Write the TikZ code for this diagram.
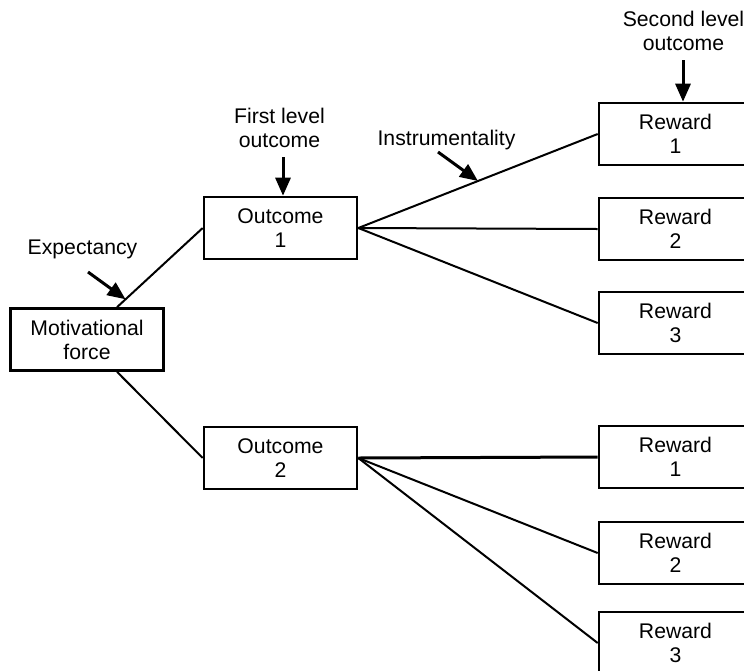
\documentclass[tikz,border=0pt]{standalone}
\usepackage{fontspec}
\setmainfont{Liberation Sans}
\usetikzlibrary{arrows.meta,calc}
\begin{document}
\begin{tikzpicture}[x=0.5pt,y=-0.5pt,
    every node/.style={font=\fontsize{10.6}{12}\selectfont},
    box/.style={draw, line width=1.3pt, minimum width=76.5pt, minimum height=31pt,
      align=center, inner sep=0pt},
    link/.style={line width=1pt},
    pointer/.style={line width=1.5pt, -{Triangle[length=9pt,width=7.5pt]}},
    note/.style={align=center}]
  \useasboundingbox (0,0) rectangle (744,670);
  \clip (0,0) rectangle (744,670);
  % boxes
  \node[box] (force) at (87,339.5) {Motivational\\force};
  \node[box] (out1) at (280.5,228) {Outcome\\1};
  \node[box] (out2) at (280.5,458) {Outcome\\2};
  \foreach \n/\y in {1/134,2/229,3/323}
    \node[box] (ra\n) at (675.5,\y) {Reward\\\n};
  \foreach \n/\y in {1/457,2/553,3/643}
    \node[box] (rb\n) at (675.5,\y) {Reward\\\n};
  % links
  \coordinate (fa) at ($(force.north)+(30,0)$);
  \coordinate (fb) at ($(force.south)+(30,0)$);
  \draw[link] (fa) -- coordinate[pos=0.1] (expt) (out1.west);
  \draw[link] (fb) -- (out2.west);
  \draw[link] (out1.east) -- coordinate[pos=0.5] (inst) (ra1.west);
  \draw[link] (out1.east) -- (ra2.west);
  \draw[link] (out1.east) -- (ra3.west);
  \draw[link, line width=1.5pt] (out2.east) -- (rb1.west);
  \draw[link] (out2.east) -- (rb2.west);
  \draw[link] (out2.east) -- (rb3.west);
  % labels
  \node[note] (exp) at (82.5,249) {Expectancy};
  \node[note] (first) at (279.5,128) {First level\\outcome};
  \node[note] (instr) at (446.5,140) {Instrumentality};
  \node[note] (second) at (683.5,31) {Second level\\outcome};
  \coordinate (expfrom) at (88,272);
  \coordinate (firstfrom) at (283,157);
  \coordinate (instfrom) at (438,152);
  \coordinate (secondfrom) at (683,60);
  \draw[pointer] (expfrom) -- (expt);
  \draw[pointer] (firstfrom) -- (firstfrom |- out1.north);
  \draw[pointer] (instfrom) -- (inst);
  \draw[pointer] (secondfrom) -- (secondfrom |- ra1.north);
\end{tikzpicture}
\end{document}
